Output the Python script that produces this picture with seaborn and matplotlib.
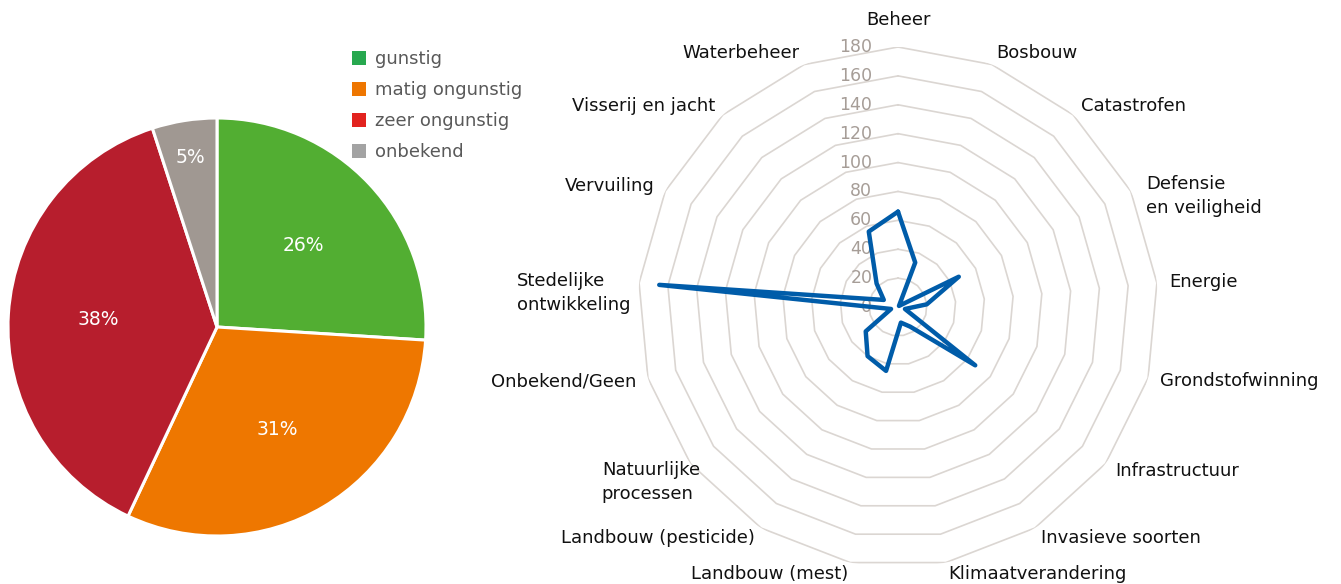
import numpy as np
import pandas as pd
import matplotlib
matplotlib.use('Agg')
import matplotlib.pyplot as plt
import seaborn as sns
from matplotlib.patches import Patch

# Pie: staat van instandhouding
status_labels = ['gunstig', 'matig ongunstig', 'zeer ongunstig', 'onbekend']
status_pct = [26, 31, 38, 5]
pie_colors = ['#52ae32', '#ee7700', '#b71e2d', '#a09892']
legend_colors = ['#27a84f', '#ee7600', '#e2231f', '#a3a3a3']

# Radar: aantal per drukfactor
threat_labels = ['Beheer', 'Bosbouw', 'Catastrofen', 'Defensie\nen veiligheid', 'Energie',
                 'Grondstofwinning', 'Infrastructuur', 'Invasieve soorten', 'Klimaatverandering',
                 'Landbouw (mest)', 'Landbouw (pesticide)', 'Natuurlijke\nprocessen',
                 'Onbekend/Geen', 'Stedelijke\nontwikkeling', 'Vervuiling', 'Visserij en jacht',
                 'Waterbeheer']
threat_counts = [66, 33, 1, 47, 20, 5, 67, 16, 11, 45, 40, 28, 5, 166, 11, 22, 56]
ring_ticks = [0, 20, 40, 60, 80, 100, 120, 140, 160, 180]

sns.set_style('white')
plt.rcParams['font.family'] = ['DejaVu Sans']

fig = plt.figure(figsize=(13.41, 5.84), dpi=100)

# --- pie chart ---
ax_pie = fig.add_axes([8 / 1341, 48 / 584, 418 / 1341, 418 / 584])
wedges, texts, autotexts = ax_pie.pie(
    status_pct, colors=pie_colors, startangle=90, counterclock=False,
    autopct=lambda p: f'{p:.0f}%', pctdistance=0.57,
    wedgeprops=dict(edgecolor='white', linewidth=2.2),
    textprops=dict(color='white', fontsize=13.5))
ax_pie.set_xlim(-1, 1)
ax_pie.set_ylim(-1, 1)
# small slice label sits further out
w = wedges[3]
mid = np.deg2rad((w.theta1 + w.theta2) / 2)
autotexts[3].set_position((0.82 * np.cos(mid), 0.82 * np.sin(mid)))

handles = [Patch(facecolor=c, edgecolor='none', label=l) for c, l in zip(legend_colors, status_labels)]
fig.legend(handles=handles, loc='upper left', bbox_to_anchor=(352 / 1341, 1 - 50 / 584),
           frameon=False, fontsize=13, handlelength=0.8, handleheight=0.8,
           handletextpad=0.5, labelspacing=0.72, borderpad=0, borderaxespad=0,
           labelcolor='#595959')

# --- radar chart ---
ax_r = fig.add_axes([(898 - 260) / 1341, (277 - 260) / 584, 520 / 1341, 520 / 584], projection='polar')
ax_r.set_theta_zero_location('N')
ax_r.set_theta_direction(-1)

n = len(threat_labels)
theta = np.arange(n) * 2 * np.pi / n
theta_closed = np.append(theta, 2 * np.pi)

for v in ring_ticks[1:]:
    ax_r.plot(theta_closed, [v] * (n + 1), color='#dbd6d2', lw=1.2, zorder=1)

radar_df = pd.DataFrame({'theta': theta_closed,
                         'count': threat_counts + threat_counts[:1]})
sns.lineplot(data=radar_df, x='theta', y='count', sort=False, estimator=None,
             color='#005ca9', lw=3.2, ax=ax_r, zorder=3)

ax_r.set_ylim(0, 180)
ax_r.grid(False)
ax_r.spines['polar'].set_visible(False)
ax_r.set_xticks([])
ax_r.set_yticks([])
ax_r.set_xlabel('')
ax_r.set_ylabel('')
ax_r.patch.set_alpha(0)

for v in ring_ticks:
    ax_r.annotate(str(v), xy=(0, v), xytext=(-18.5, 0), textcoords='offset points',
                  ha='right', va='center', fontsize=12.5, color='#a69d97', zorder=2)

# extra nudges (pixels, right / down) for the two-line labels
nudge = {3: (5, 10), 11: (19, 11), 13: (3, 11)}
for i, lab in enumerate(threat_labels):
    s, c = np.sin(theta[i]), np.cos(theta[i])
    ha = 'left' if s > 0.05 else ('right' if s < -0.05 else 'center')
    va = 'center'
    d = 8.6
    if i == 0:
        va = 'bottom'
        d = 13
    dx, dy = nudge.get(i, (0, 0))
    ax_r.annotate(lab, xy=(theta[i], 180),
                  xytext=(d * s + dx * 0.72, d * c - dy * 0.72), textcoords='offset points',
                  ha=ha, va=va, multialignment='left', linespacing=1.4,
                  fontsize=13, color='#111111', annotation_clip=False)

fig.savefig('out.png', dpi=100)
